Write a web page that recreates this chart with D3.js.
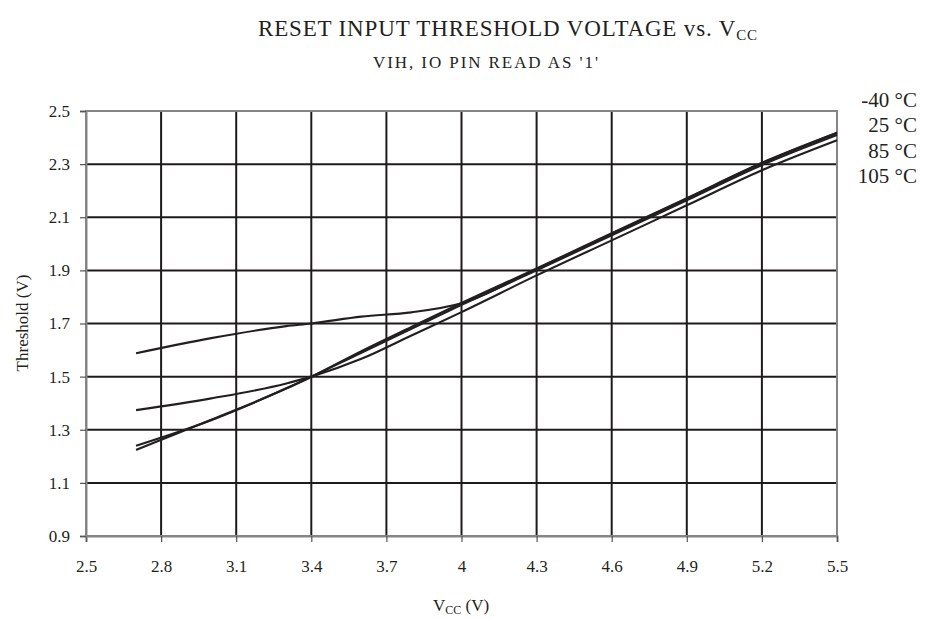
<!DOCTYPE html>
<html><head><meta charset="utf-8">
<script src="https://cdn.jsdelivr.net/npm/d3@7"></script>
<style>body{margin:0;background:#fff}svg{display:block}text{font-family:"Liberation Serif","Times New Roman",serif;fill:#231f20}</style>
</head><body>
<svg id="c" width="925" height="619"></svg>
<script>
const vcc = [2.7, 3.0, 3.3, 3.4, 3.6, 3.8, 4.0, 4.3, 4.6, 4.9, 5.2, 5.5];
const tM40 = [1.588, 1.645, 1.690, 1.700, 1.726, 1.742, 1.776, 1.905, 2.038, 2.170, 2.303, 2.417];
const t25  = [1.240, 1.336, 1.456, 1.500, 1.596, 1.687, 1.777, 1.907, 2.040, 2.172, 2.305, 2.418];
const t85  = [1.224, 1.338, 1.455, 1.499, 1.590, 1.680, 1.770, 1.900, 2.032, 2.164, 2.297, 2.410];
const t105 = [1.374, 1.418, 1.474, 1.500, 1.567, 1.655, 1.743, 1.881, 2.013, 2.145, 2.277, 2.390];
const seriesNames = ["-40 °C", "25 °C", "85 °C", "105 °C"];
const xTicks = [2.5, 2.8, 3.1, 3.4, 3.7, 4.0, 4.3, 4.6, 4.9, 5.2, 5.5];
const yTicks = [0.9, 1.1, 1.3, 1.5, 1.7, 1.9, 2.1, 2.3, 2.5];

const svg = d3.select("#c");
const L = 86, R = 837, T = 111, B = 536;
const x = d3.scaleLinear().domain([2.5, 5.5]).range([L, R]);
const y = d3.scaleLinear().domain([0.9, 2.5]).range([B, T]);

// grid
const g = svg.append("g");
g.selectAll(".vg").data(xTicks.slice(1, -1)).join("line")
  .attr("x1", d => x(d)).attr("x2", d => x(d)).attr("y1", T).attr("y2", B)
  .attr("stroke", "#1e1b1c").attr("stroke-width", 2);
g.selectAll(".hg").data(yTicks.slice(1, -1)).join("line")
  .attr("y1", d => y(d)).attr("y2", d => y(d)).attr("x1", L).attr("x2", R)
  .attr("stroke", "#1e1b1c").attr("stroke-width", 2);
// border
svg.append("rect").attr("x", L).attr("y", T).attr("width", R - L).attr("height", B - T)
  .attr("fill", "none").attr("stroke", "#858585").attr("stroke-width", 2);

// axes
const xa = svg.append("g").attr("transform", `translate(0,${B})`)
  .call(d3.axisBottom(x).tickValues(xTicks).tickSize(6).tickPadding(18).tickFormat(d3.format("")));
const ya = svg.append("g").attr("transform", `translate(${L},0)`)
  .call(d3.axisLeft(y).tickValues(yTicks).tickSize(6).tickPadding(10).tickFormat(d3.format(".1f")));
[xa, ya].forEach(a => {
  a.select(".domain").attr("stroke", "#858585").attr("stroke-width", 2);
  a.selectAll(".tick line").attr("stroke", "#555").attr("stroke-width", 1.2);
  a.selectAll(".tick text").style("font-family", '"Liberation Serif",serif').style("font-size", "17px").attr("fill", "#231f20");
});

// lines
const line = d3.line().x(d => x(d[0])).y(d => y(d[1])).curve(d3.curveMonotoneX);
[tM40, t25, t85, t105].forEach(s => {
  svg.append("path").datum(vcc.map((v, i) => [v, s[i]]))
    .attr("d", line).attr("fill", "none").attr("stroke", "#231f20").attr("stroke-width", 2.1);
});

// legend labels
svg.selectAll(".lg").data(seriesNames).join("text")
  .attr("x", 917).attr("y", (d, i) => 107 + i * 25.3)
  .attr("text-anchor", "end").style("font-size", "21px").text(d => d);

// titles
const t1 = svg.append("text").attr("x", 258).attr("y", 36).style("font-size", "23px")
  .attr("textLength", 499).attr("lengthAdjust", "spacing");
t1.append("tspan").text("RESET INPUT THRESHOLD VOLTAGE vs. V");
t1.append("tspan").attr("dy", 4).style("font-size", "15px").text("CC");
svg.append("text").attr("x", 373).attr("y", 68).style("font-size", "17px")
  .attr("textLength", 225).attr("lengthAdjust", "spacing")
  .text("VIH, IO PIN READ AS '1'");
const xt = svg.append("text").attr("x", 461).attr("y", 611).attr("text-anchor", "middle").style("font-size", "17px");
xt.append("tspan").text("V");
xt.append("tspan").attr("dy", 3).style("font-size", "12px").text("CC");
xt.append("tspan").attr("dy", -3).text(" (V)");
svg.append("text").attr("transform", "translate(28,323) rotate(-90)").attr("text-anchor", "middle")
  .style("font-size", "17px").text("Threshold (V)");
</script>
</body></html>
